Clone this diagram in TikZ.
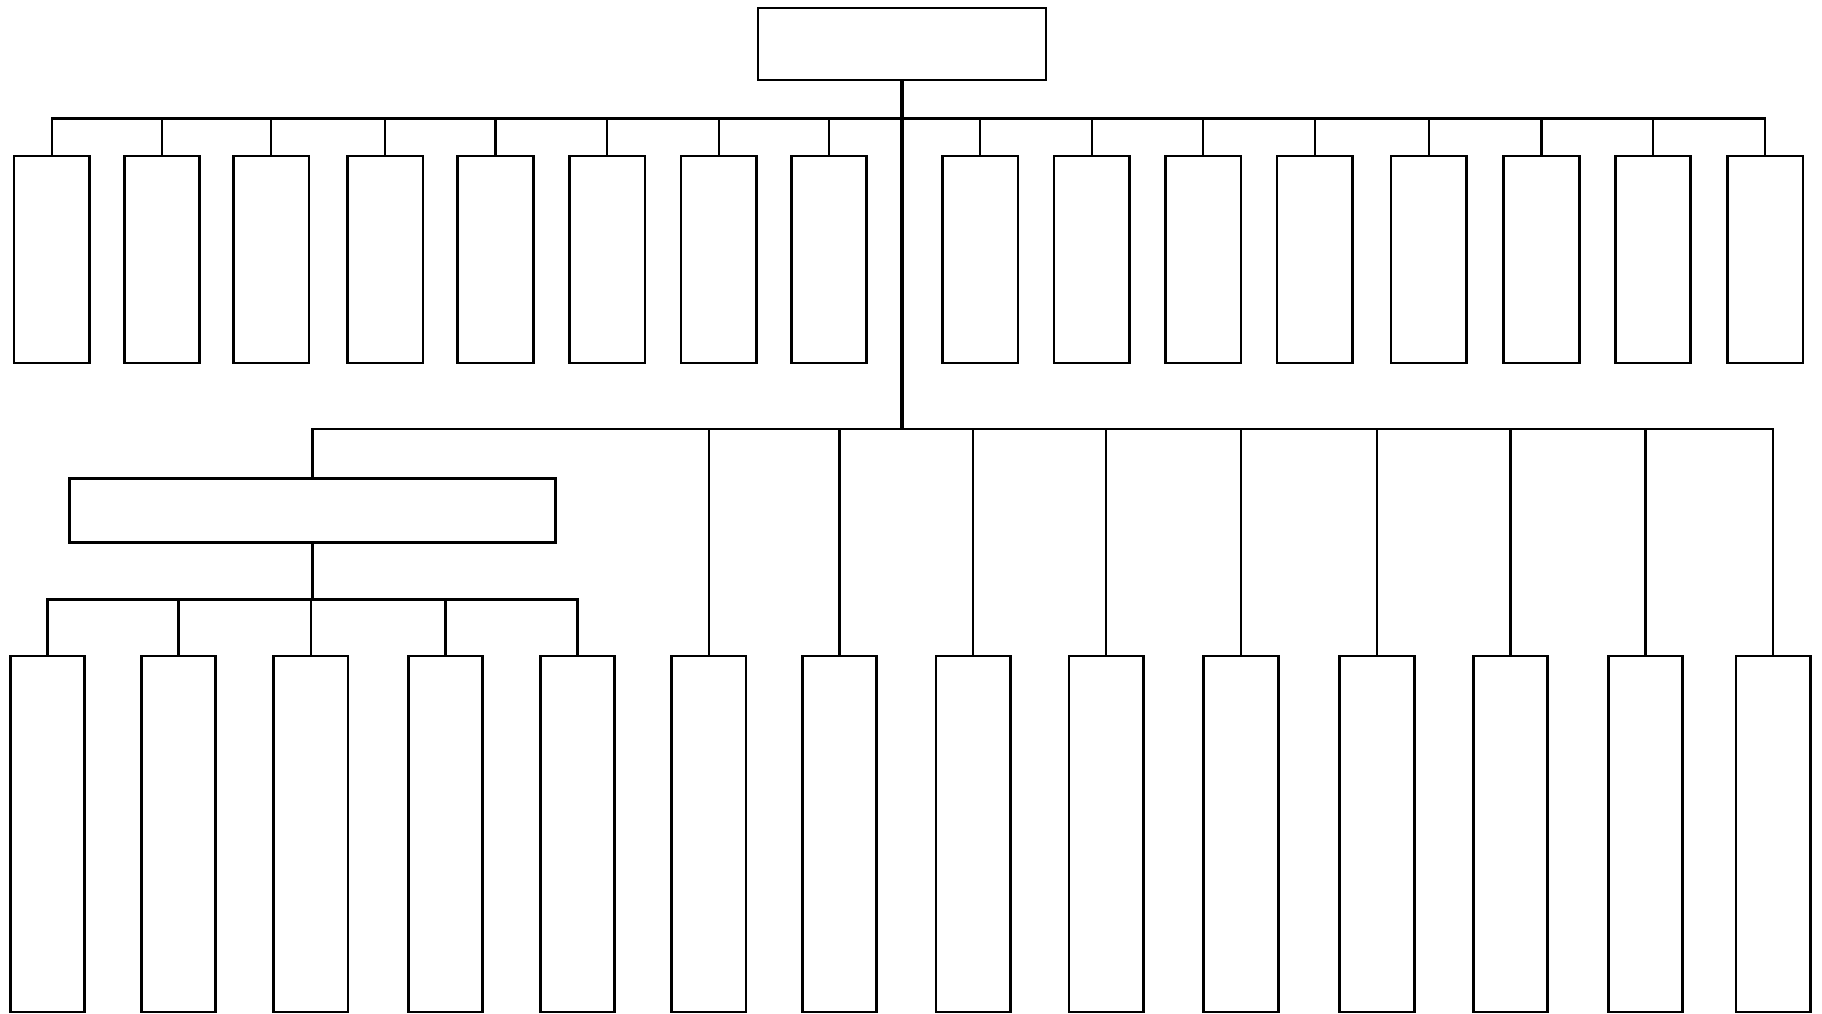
\documentclass[tikz,border=0pt]{standalone}
\usepackage{tikz}

\begin{document}
\begin{tikzpicture}[
    box/.style={draw, rectangle, line width=0.8pt, inner sep=0pt, fill=white},
    headbox/.style={box, minimum width=2.88cm, minimum height=0.72cm},
    midbox/.style={box, minimum width=4.86cm, minimum height=0.64cm},
    upperbox/.style={box, minimum width=0.755cm, minimum height=2.07cm},
    lowerbox/.style={box, minimum width=0.745cm, minimum height=3.56cm},
    link/.style={line width=0.65pt},
    trunk/.style={line width=1pt}
]
    \useasboundingbox (0,0) rectangle (18.22,-10.13);

    % Nodes
    \node[headbox] (head) at (9.02,-0.44) {};

    \node[upperbox] (t1) at (0.517,-2.595) {};
    \node[upperbox] (t2) at (1.621,-2.595) {};
    \node[upperbox] (t3) at (2.713,-2.595) {};
    \node[upperbox] (t4) at (3.852,-2.595) {};
    \node[upperbox] (t5) at (4.956,-2.595) {};
    \node[upperbox] (t6) at (6.072,-2.595) {};
    \node[upperbox] (t7) at (7.187,-2.595) {};
    \node[upperbox] (t8) at (8.291,-2.595) {};
    \node[upperbox] (t9) at (9.802,-2.595) {};
    \node[upperbox] (t10) at (10.917,-2.595) {};
    \node[upperbox] (t11) at (12.033,-2.595) {};
    \node[upperbox] (t12) at (13.148,-2.595) {};
    \node[upperbox] (t13) at (14.287,-2.595) {};
    \node[upperbox] (t14) at (15.414,-2.595) {};
    \node[upperbox] (t15) at (16.530,-2.595) {};
    \node[upperbox] (t16) at (17.652,-2.595) {};

    \node[midbox] (mid) at (3.126,-5.108) {};

    \node[lowerbox] (b1) at (0.476,-8.34) {};
    \node[lowerbox] (b2) at (1.784,-8.34) {};
    \node[lowerbox] (b3) at (3.108,-8.34) {};
    \node[lowerbox] (b4) at (4.456,-8.34) {};
    \node[lowerbox] (b5) at (5.775,-8.34) {};
    \node[lowerbox] (b6) at (7.088,-8.34) {};
    \node[lowerbox] (b7) at (8.395,-8.34) {};
    \node[lowerbox] (b8) at (9.732,-8.34) {};
    \node[lowerbox] (b9) at (11.062,-8.34) {};
    \node[lowerbox] (b10) at (12.410,-8.34) {};
    \node[lowerbox] (b11) at (13.770,-8.34) {};
    \node[lowerbox] (b12) at (15.106,-8.34) {};
    \node[lowerbox] (b13) at (16.454,-8.34) {};
    \node[lowerbox] (b14) at (17.732,-8.34) {};

    % Bus points
    \coordinate (bus1) at (9.02,-1.185);
    \coordinate (bus2) at (9.02,-4.29);
    \coordinate (bus3) at (3.126,-5.996);

    % Lines to the upper row
    \draw[link] (bus1) -| (t1.north);
    \draw[link] (bus1) -| (t2.north);
    \draw[link] (bus1) -| (t3.north);
    \draw[link] (bus1) -| (t4.north);
    \draw[link] (bus1) -| (t5.north);
    \draw[link] (bus1) -| (t6.north);
    \draw[link] (bus1) -| (t7.north);
    \draw[link] (bus1) -| (t8.north);
    \draw[link] (bus1) -| (t9.north);
    \draw[link] (bus1) -| (t10.north);
    \draw[link] (bus1) -| (t11.north);
    \draw[link] (bus1) -| (t12.north);
    \draw[link] (bus1) -| (t13.north);
    \draw[link] (bus1) -| (t14.north);
    \draw[link] (bus1) -| (t15.north);
    \draw[link] (bus1) -| (t16.north);

    % Trunk down the middle
    \draw[trunk] (head.south) -- (bus2);

    % Lines to the lower row
    \draw[link] (bus2) -| (mid.north);
    \draw[link] (bus2) -| (b6.north);
    \draw[link] (bus2) -| (b7.north);
    \draw[link] (bus2) -| (b8.north);
    \draw[link] (bus2) -| (b9.north);
    \draw[link] (bus2) -| (b10.north);
    \draw[link] (bus2) -| (b11.north);
    \draw[link] (bus2) -| (b12.north);
    \draw[link] (bus2) -| (b13.north);
    \draw[link] (bus2) -| (b14.north);

    % Group under the wide box
    \draw[trunk] (mid.south) -- (bus3);
    \draw[link] (bus3) -| (b1.north);
    \draw[link] (bus3) -| (b2.north);
    \draw[link] (bus3) -| (b3.north);
    \draw[link] (bus3) -| (b4.north);
    \draw[link] (bus3) -| (b5.north);
\end{tikzpicture}
\end{document}
